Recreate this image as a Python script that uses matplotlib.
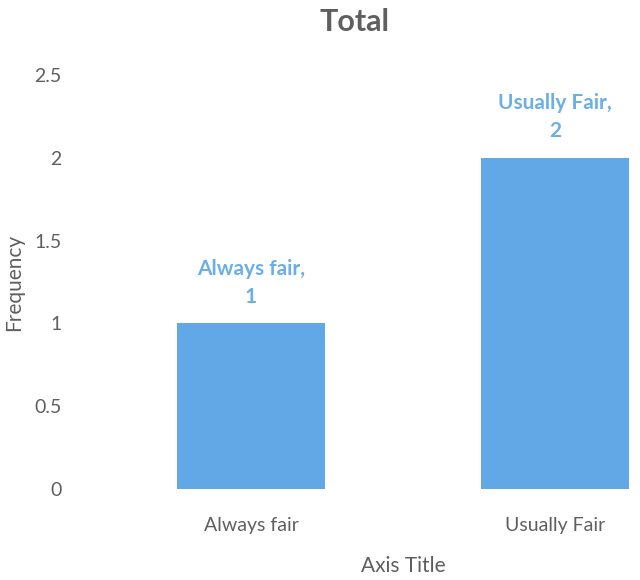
import matplotlib.pyplot as plt

categories = ['Always fair', 'Usually Fair']
frequency = [1, 2]
y_ticks = [0, 0.5, 1, 1.5, 2, 2.5]
y_tick_labels = ['0', '0.5', '1', '1.5', '2', '2.5']

gray = '#5f5f5f'
bar_color = '#62A8E6'
label_color = '#6AAFE6'

plt.rcParams['font.family'] = ['Lato', 'DejaVu Sans']

fig = plt.figure(figsize=(6.4, 5.8), dpi=100)
# plot area runs past the right edge (image was cropped)
ax = fig.add_axes([99 / 640, 91 / 580, 608 / 640, 414 / 580])

x = range(len(categories))
ax.bar(x, frequency, width=0.487, color=bar_color)

for xi, cat, val in zip(x, categories, frequency):
    ax.annotate(f'{cat},\n{val}', (xi, val), xytext=(0, 12), textcoords='offset points',
                ha='center', va='bottom', color=label_color, fontsize=15,
                fontweight='bold', linespacing=1.5)

ax.set_xlim(-0.5, 1.5)
ax.set_ylim(0, 2.5)
ax.set_yticks(y_ticks)
ax.set_yticklabels(y_tick_labels)
ax.set_xticks(list(x))
ax.set_xticklabels(categories)
ax.tick_params(axis='both', length=0, labelcolor=gray, labelsize=14)
ax.tick_params(axis='y', pad=27)
ax.tick_params(axis='x', pad=20)

for s in ax.spines.values():
    s.set_visible(False)

ax.set_ylabel('Frequency', color=gray, fontsize=15)
ax.yaxis.set_label_coords(-0.123, 0.5)
ax.set_xlabel('Axis Title', color=gray, fontsize=15, labelpad=16)

fig.text(355 / 640, 1 - 22 / 580, 'Total', ha='center', va='center',
         fontsize=22, fontweight='bold', color=gray)

fig.savefig('out.png', dpi=100)
